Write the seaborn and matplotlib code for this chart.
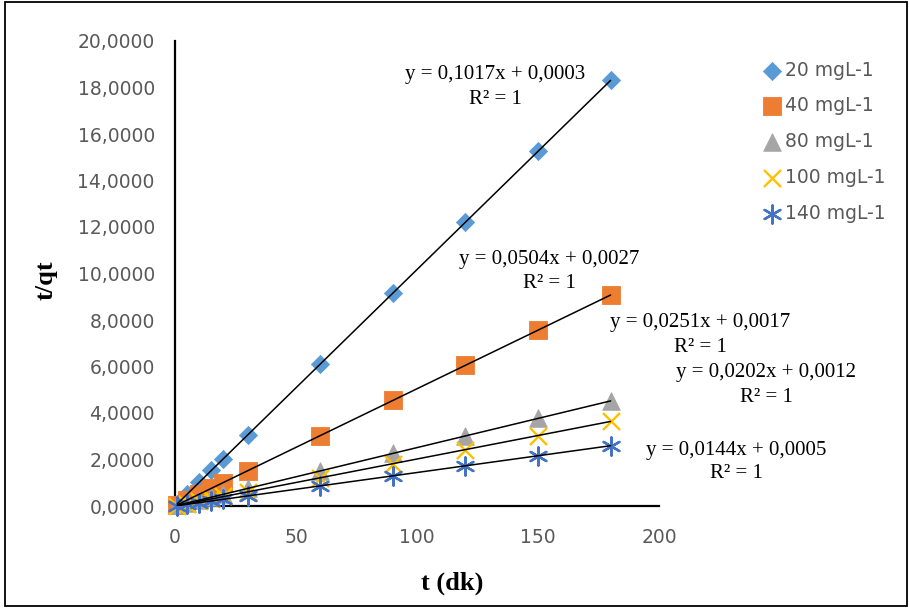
import numpy as np
import pandas as pd
import matplotlib
matplotlib.use("Agg")
import matplotlib.pyplot as plt
from matplotlib.patches import Rectangle
import seaborn as sns

# Contact time (min) and t/qt values for each initial concentration
t_min = [1, 5, 10, 15, 20, 30, 60, 90, 120, 150, 180]
tqt_20 = [0.10, 0.51, 1.02, 1.53, 2.04, 3.05, 6.10, 9.15, 12.21, 15.26, 18.31]
tqt_40 = [0.06, 0.26, 0.51, 0.76, 1.01, 1.52, 3.03, 4.54, 6.05, 7.56, 9.08]
tqt_80 = [0.03, 0.13, 0.25, 0.38, 0.50, 0.76, 1.51, 2.26, 3.01, 3.77, 4.52]
tqt_100 = [0.02, 0.10, 0.20, 0.30, 0.41, 0.61, 1.21, 1.82, 2.42, 3.03, 3.64]
tqt_140 = [0.01, 0.07, 0.14, 0.22, 0.29, 0.43, 0.87, 1.30, 1.73, 2.16, 2.59]

series_names = ["20 mgL-1", "40 mgL-1", "80 mgL-1", "100 mgL-1", "140 mgL-1"]
series_values = [tqt_20, tqt_40, tqt_80, tqt_100, tqt_140]

# Linear trendline coefficients (slope, intercept)
slopes = [0.1017, 0.0504, 0.0251, 0.0202, 0.0144]
intercepts = [0.0003, 0.0027, 0.0017, 0.0012, 0.0005]

x_ticks = [0, 50, 100, 150, 200]
y_ticks = [0, 2, 4, 6, 8, 10, 12, 14, 16, 18, 20]

colors = ["#5B9BD5", "#ED7D31", "#A5A5A5", "#FFC000", "#4472C4"]
markers = ["D", "s", "^", "x", (6, 2, 0)]
sizes = [85, 160, 160, 150, 170]

sns.set_style("white")
plt.rcParams["font.family"] = ["DejaVu Sans"]

W, H = 909, 612
fig = plt.figure(figsize=(W / 100, H / 100), dpi=100)
ax = fig.add_axes([175 / W, 1 - 506 / H, 484 / W, 465 / H])

for name, vals, col, mk, sz in zip(series_names, series_values, colors, markers, sizes):
    df = pd.DataFrame({"t": t_min, "tqt": vals})
    filled = mk in ("D", "s", "^")
    kw = dict(edgecolor=col, linewidth=0.6) if filled else dict(linewidth=1.7)
    sns.scatterplot(data=df, x="t", y="tqt", marker=mk, color=col, s=sz,
                    label=name, ax=ax, zorder=3, clip_on=False, **kw)

# Trendlines drawn from their equations over the measured time range
x_line = np.array([min(t_min), max(t_min)])
for m, b in zip(slopes, intercepts):
    ln = pd.DataFrame({"t": x_line, "y": m * x_line + b})
    sns.lineplot(data=ln, x="t", y="y", color="black", linewidth=1.1,
                 ax=ax, zorder=4, legend=False)

ax.set_xlim(0, 200)
ax.set_ylim(0, 20)
ax.set_xticks(x_ticks)
ax.set_yticks(y_ticks)
ax.set_xticklabels([str(v) for v in x_ticks])
ax.set_yticklabels([f"{v:.4f}".replace(".", ",") for v in y_ticks])
ax.tick_params(axis="both", length=0, labelsize=13.5, colors="#595959")
ax.tick_params(axis="x", pad=16)
ax.tick_params(axis="y", pad=14.5)

for side in ("top", "right"):
    ax.spines[side].set_visible(False)
for side in ("left", "bottom"):
    ax.spines[side].set_color("black")
    ax.spines[side].set_linewidth(1.6)
ax.grid(False)

ax.set_xlabel("t (dk)", family="Liberation Serif", fontweight="bold", fontsize=19, color="black")
ax.set_ylabel("t/qt", family="Liberation Serif", fontweight="bold", fontsize=19, color="black")
ax.xaxis.set_label_coords((452 - 175) / 484, (506 - 572) / 465)
ax.yaxis.set_label_coords((58 - 175) / 484, (506 - 280) / 465)

leg = ax.legend(loc="upper left", bbox_to_anchor=(753 / W, 1 - 53 / H),
                bbox_transform=fig.transFigure, frameon=False, fontsize=13.5,
                handletextpad=0.1, labelspacing=0.9, handlelength=1.2,
                borderaxespad=0)
for txt in leg.get_texts():
    txt.set_color("#595959")

# Trendline equations
eq_pos = [(495, 75, 100), (549, 259, 283), (700, 323, 347), (766, 373, 397), (736, 450, 474)]
for (cx, y1, y2), m, b in zip(eq_pos, slopes, intercepts):
    eq = f"y = {m:.4f}x + {b:.4f}".replace(".", ",")
    fig.text(cx / W, 1 - y1 / H, eq, ha="center", va="center",
             family="Liberation Serif", fontsize=15, color="black")
    fig.text(cx / W, 1 - y2 / H, "R² = 1", ha="center", va="center",
             family="Liberation Serif", fontsize=15, color="black")

# Outer chart frame
fig.patches.append(Rectangle((5 / W, 6 / H), 902 / W, 604 / H, transform=fig.transFigure,
                             fill=False, edgecolor="black", linewidth=1.3))

fig.savefig("out.png", dpi=100)
